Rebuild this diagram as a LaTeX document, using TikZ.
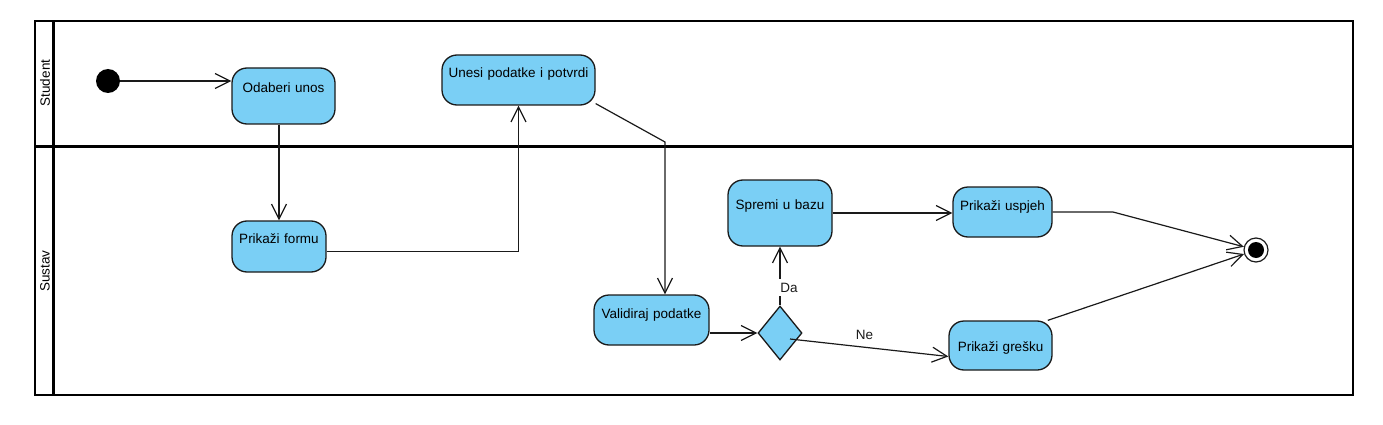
\documentclass[tikz,border=0pt]{standalone}
\usepackage{fontspec}
\setmainfont{Liberation Sans}
\usetikzlibrary{arrows.meta,positioning,calc,shapes.geometric}
\definecolor{ActBlue}{HTML}{7ACFF5}
\definecolor{ActLine}{HTML}{1A1A1A}
\newcommand\actfont{\fontsize{13.5}{16}\selectfont}

\begin{document}
\begin{tikzpicture}[x=1pt,y=-1pt,>={Straight Barb[length=15pt,width=15pt]},
  font=\actfont,
  act/.style={draw=ActLine,fill=ActBlue,line width=1.3pt,rounded corners=15pt,
    inner sep=0pt,align=center},
  flow/.style={->,line width=1.2pt,ActLine},
  guard/.style={fill=white,inner xsep=2pt,inner ysep=4pt}]
  \useasboundingbox (0,0) rectangle (1383,425);

  % swimlanes
  \draw[line width=2pt] (35,21) rectangle (1353,395);
  \draw[line width=3pt] (53,21) -- (53,395);
  \draw[line width=3pt] (35,146) -- (1353,146);
  \node[rotate=90] (laneS) at (45,83) {Student};
  \node[rotate=90] (laneR) at (45,271) {Sustav};

  % activities
  \node[circle,fill=black,minimum size=24pt,inner sep=0pt] (init) at (108,81) {};
  \node[act,text width=103pt,text height=25pt,text depth=31pt] (odab) at (283.5,96) {Odaberi unos};
  \node[act,text width=94pt,text height=22pt,text depth=29pt] (pf) at (279,246.5) {Prika\v{z}i formu};
  \node[act,text width=153pt,text height=23pt,text depth=27pt] (unesi) at (518.5,80) {Unesi podatke i potvrdi};
  \node[act,text width=115pt,text height=23pt,text depth=27pt] (valid) at (651.5,320) {Validiraj podatke};
  \node[diamond,draw=ActLine,fill=ActBlue,line width=1.3pt,minimum width=44pt,
        minimum height=54pt,inner sep=0pt] (dec) at (780,333) {};
  \node[act,text width=104pt,text height=29pt,text depth=37pt] (spremi) at (780,213) {Spremi u bazu};
  \node[act,text width=99pt,text height=23pt,text depth=27pt] (uspjeh) at (1002.5,212) {Prika\v{z}i uspjeh};
  \node[act,text width=103pt,text height=30pt,text depth=19pt] (greska) at (1000.5,345.5) {Prika\v{z}i gre\v{s}ku};
  \node[circle,draw=ActLine,fill=white,line width=1.2pt,minimum size=24pt,inner sep=0pt] (fin) at (1256,250) {};
  \fill[black] (fin) circle (8pt);

  \coordinate (bendV) at (665,142);
  \coordinate (bendU) at (1113,212);

  % flows
  \draw[flow] (init.east) -- (init -| odab.west);
  \draw[flow] (pf.north |- odab.south) -- (pf.north);
  \draw[flow] ([yshift=-5pt]pf.east) -| (unesi.south);
  \draw[flow] (unesi.-17) -- (bendV) -- (bendV |- valid.north);
  \draw[flow] (dec.west -| valid.east) -- (dec.west);
  \draw[flow] (dec.north) -- node[guard,pos=0.3,xshift=9pt] {Da} (spremi.south);
  \draw[flow] ([xshift=10pt,yshift=-6pt]dec.center) -- node[pos=0.47,above=4pt] {Ne} ([yshift=-11pt]greska.west);
  \draw[flow] (spremi.east) -- (spremi.east -| uspjeh.west);
  \draw[flow] (uspjeh.east) -- (bendU) -- (fin);
  \draw[flow] (greska.28) -- (fin);
\end{tikzpicture}
\end{document}
